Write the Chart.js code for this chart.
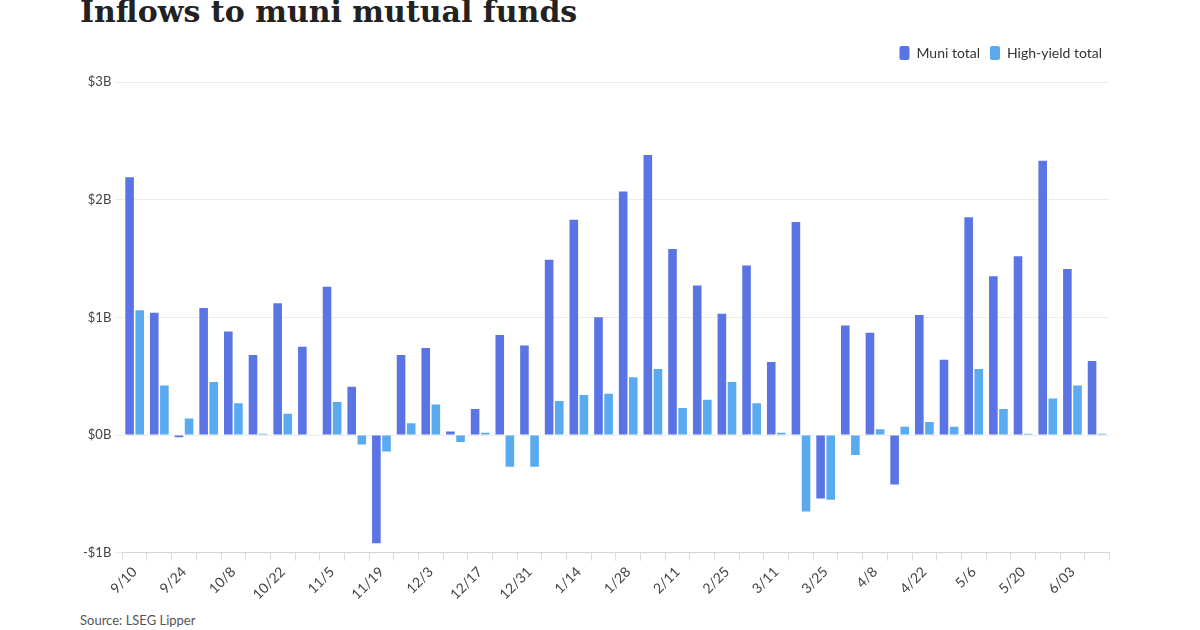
<!DOCTYPE html>
<html>
<head>
<meta charset="utf-8">
<script src="https://cdn.jsdelivr.net/npm/chart.js"></script>
<style>
  body { margin: 0; background: #fff; width: 1200px; height: 630px; overflow: hidden; position: relative; font-family: Lato, sans-serif; }
  #title { position: absolute; left: 80px; top: -6px; font-family: "DejaVu Serif", serif; font-weight: bold; font-size: 30px; color: #222; }
  #source { position: absolute; left: 80px; top: 612px; font-size: 13px; color: #555; }
  #wrap { position: absolute; left: 70px; top: 36px; width: 1042px; height: 570px; }
</style>
</head>
<body>
<div id="title">Inflows to muni mutual funds</div>
<div id="wrap"><canvas id="c" width="1042" height="570"></canvas></div>
<div id="source">Source: LSEG Lipper</div>
<script>
const weeks = ["9/10","9/17","9/24","10/1","10/8","10/15","10/22","10/29","11/5","11/12","11/19","11/26","12/3","12/10","12/17","12/24","12/31","1/7","1/14","1/21","1/28","2/4","2/11","2/18","2/25","3/4","3/11","3/18","3/25","4/1","4/8","4/15","4/22","4/29","5/6","5/13","5/20","5/27","6/03","6/10"];
const muniTotal = [2.19,1.04,-0.02,1.08,0.88,0.68,1.12,0.75,1.26,0.41,-0.92,0.68,0.74,0.03,0.22,0.85,0.76,1.49,1.83,1.00,2.07,2.38,1.58,1.27,1.03,1.44,0.62,1.81,-0.54,0.93,0.87,-0.42,1.02,0.64,1.85,1.35,1.52,2.33,1.41,0.63];
const highYieldTotal = [1.06,0.42,0.14,0.45,0.27,0.01,0.18,0.00,0.28,-0.08,-0.14,0.10,0.26,-0.06,0.02,-0.27,-0.27,0.29,0.34,0.35,0.49,0.56,0.23,0.30,0.45,0.27,0.02,-0.65,-0.55,-0.17,0.05,0.07,0.11,0.07,0.56,0.22,0.01,0.31,0.42,0.01];
const yTicks = [-1, 0, 1, 2, 3];

new Chart(document.getElementById('c'), {
  type: 'bar',
  data: {
    labels: weeks,
    datasets: [
      { label: 'Muni total', data: muniTotal, backgroundColor: '#5b74e4', categoryPercentage: 0.82, barPercentage: 0.85 },
      { label: 'High-yield total', data: highYieldTotal, backgroundColor: '#5aaaf0', categoryPercentage: 0.82, barPercentage: 0.85 }
    ]
  },
  options: {
    responsive: false,
    animation: false,
    layout: { padding: { left: 10 } },
    plugins: {
      legend: {
        align: 'end',
        labels: { boxWidth: 10, boxHeight: 14, padding: 10, useBorderRadius: true, borderRadius: 2, font: { family: 'Lato', size: 14 }, color: '#333' }
      },
      tooltip: { enabled: false }
    },
    scales: {
      x: {
        grid: { display: true, drawOnChartArea: false, color: '#ddd', offset: true },
        ticks: {
          autoSkip: false, maxRotation: 45, minRotation: 45,
          font: { family: 'Lato', size: 14 }, color: '#444',
          callback: (v, i) => i % 2 === 0 ? weeks[i] : ''
        }
      },
      y: {
        min: -1, max: 3,
        afterBuildTicks: axis => { axis.ticks = yTicks.map(v => ({ value: v })); },
        afterFit: axis => { axis.paddingTop = 12; },
        grid: { color: '#ececec' },
        border: { display: false },
        ticks: { font: { family: 'Lato', size: 13 }, color: '#444', callback: v => (v < 0 ? '-$' + (-v) : '$' + v) + 'B' }
      }
    }
  },
  plugins: [{
    id: 'legendGap',
    beforeInit(chart) {
      const fit = chart.legend.fit;
      chart.legend.fit = function () { fit.bind(chart.legend)(); this.height += 12; };
    }
  }]
});
</script>
</body>
</html>
